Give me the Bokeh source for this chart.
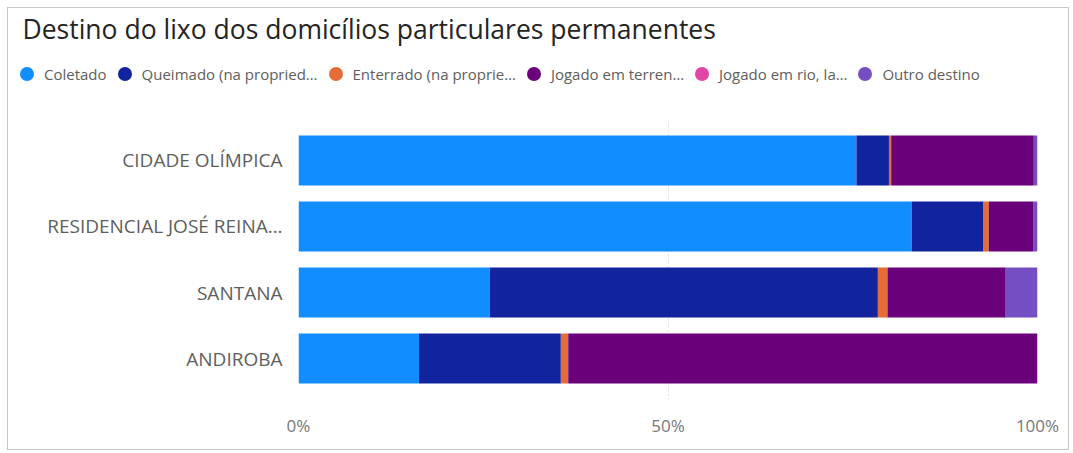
from bokeh.plotting import figure
from bokeh.layouts import column
from bokeh.models import (ColumnDataSource, FactorRange, Range1d, FixedTicker,
                          NumeralTickFormatter, Legend, LegendItem, Label)
from bokeh.embed import file_html
from bokeh.resources import INLINE

title_text = "Destino do lixo dos domicílios particulares permanentes"
categories = ["CIDADE OLÍMPICA", "RESIDENCIAL JOSÉ REINA…", "SANTANA", "ANDIROBA"]
series = ["Coletado", "Queimado (na propried…", "Enterrado (na proprie…",
          "Jogado em terren…", "Jogado em rio, la…", "Outro destino"]
coletado = [0.755, 0.830, 0.259, 0.163]
queimado = [0.044, 0.097, 0.525, 0.192]
enterrado = [0.003, 0.007, 0.013, 0.010]
jogado_terreno = [0.193, 0.060, 0.160, 0.635]
jogado_rio = [0.0, 0.0, 0.0, 0.0]
outro = [0.005, 0.006, 0.043, 0.0]
colors = ["#118DFF", "#12239E", "#E66C37", "#6B007B", "#E044A7", "#744EC2"]
tick_values = [0, 0.5, 1]

keys = ["s0", "s1", "s2", "s3", "s4", "s5"]
source = ColumnDataSource(dict(cat=categories, s0=coletado, s1=queimado, s2=enterrado,
                               s3=jogado_terreno, s4=jogado_rio, s5=outro))

FONT = "Open Sans"
GREY = "#605E5C"
W = 1060

# ---- header: title + legend ----
head = figure(width=W, height=111, output_backend="svg", toolbar_location=None,
              title_location=None, x_range=Range1d(0, 1), y_range=Range1d(0, 1),
              min_border=0)
head.frame_align = False
head.axis.visible = False
head.grid.visible = False
head.outline_line_color = None

head.add_layout(Label(x=14, y=91, x_units="screen", y_units="screen", text=title_text,
                      text_font=FONT, text_font_size="26.5px", text_color="#252423",
                      text_baseline="middle", text_align="left"))

# legend-only renderers (hidden; they only supply the round legend markers)
items = []
for name, key, c in zip(series, keys, colors):
    r = head.circle(x=key, y=key, radius=0.01, source=source,
                    fill_color=c, line_color=None, visible=False)
    items.append(LegendItem(label=name, renderers=[r]))

legend = Legend(items=items, orientation="horizontal", location=(1, 28),
                glyph_width=35, glyph_height=35, label_standoff=0, spacing=0,
                padding=0, margin=0, border_line_color=None, background_fill_alpha=0,
                label_text_font=FONT, label_text_font_size="15px", label_text_color=GREY)
head.add_layout(legend, "center")

# ---- main chart ----
p = figure(width=W, height=330, output_backend="svg", toolbar_location=None,
           title_location=None,
           y_range=FactorRange(factors=categories[::-1]),
           x_range=Range1d(0, 1),
           min_border_left=290, min_border_right=31, min_border_top=0, min_border_bottom=50)
p.frame_align = False
p.y_range.range_padding = 0.0606

p.hbar_stack(keys, y="cat", height=0.758, color=colors, line_color=None, source=source)

p.xaxis.ticker = FixedTicker(ticks=tick_values)
p.xaxis.formatter = NumeralTickFormatter(format="0%")
p.xaxis.axis_line_color = None
p.xaxis.major_tick_line_color = None
p.xaxis.minor_tick_line_color = None
p.xaxis.major_label_standoff = 8
p.xaxis.major_label_text_font = FONT
p.xaxis.major_label_text_font_size = "17px"
p.xaxis.major_label_text_color = "#777777"

p.yaxis.axis_line_color = None
p.yaxis.major_tick_line_color = None
p.yaxis.minor_tick_line_color = None
p.yaxis.major_label_standoff = 10
p.yaxis.major_label_text_font = FONT
p.yaxis.major_label_text_font_size = "19px"
p.yaxis.major_label_text_color = GREY

p.ygrid.grid_line_color = None
p.xgrid.grid_line_color = "#C8C6C4"
p.xgrid.grid_line_dash = "1 3"
p.outline_line_color = None

layout = column(head, p, spacing=0)
layout.styles = {"border": "1px solid #C8C6C4", "margin": "7px 0 0 7px"}

open("out.html", "w").write(file_html(layout, INLINE))
